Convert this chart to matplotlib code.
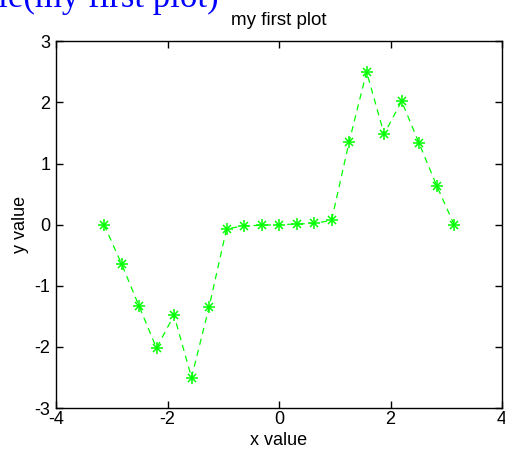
import matplotlib.pyplot as plt
import numpy as np

# x samples: -pi..pi in steps of pi/10
x_vals = [-3.1416, -2.8274, -2.5133, -2.1991, -1.8850, -1.5708, -1.2566,
          -0.9425, -0.6283, -0.3142, 0.0, 0.3142, 0.6283, 0.9425,
          1.2566, 1.5708, 1.8850, 2.1991, 2.5133, 2.8274, 3.1416]
y_vals = [0.0, -0.64, -1.33, -2.02, -1.48, -2.50, -1.35,
          -0.07, -0.02, -0.01, 0.0, 0.01, 0.02, 0.07,
          1.35, 2.50, 1.48, 2.02, 1.33, 0.64, 0.0]

x_ticks = [-4, -2, 0, 2, 4]
y_ticks = [-3, -2, -1, 0, 1, 2, 3]

plt.rcParams["font.family"] = ["Liberation Sans", "DejaVu Sans"]
plt.rcParams["axes.unicode_minus"] = False

fig = plt.figure(figsize=(5.06, 4.58), dpi=100)
ax = fig.add_axes([0.111, 0.109, 0.881, 0.801])

green = (0, 1, 0)
ax.plot(x_vals, y_vals, "--", color=green, linewidth=0.9, dashes=(5, 4))
ax.plot(x_vals, y_vals, "+", color=green, markersize=9, markeredgewidth=1.1)
ax.plot(x_vals, y_vals, "x", color=green, markersize=6, markeredgewidth=1.1)

ax.set_xlim(-4, 4)
ax.set_ylim(-3, 3)
ax.set_xticks(x_ticks)
ax.set_yticks(y_ticks)
ax.tick_params(direction="in", top=True, right=True, length=5, width=1,
               labelsize=13)
ax.tick_params(axis="x", pad=2)
ax.tick_params(axis="y", pad=4)
for s in ax.spines.values():
    s.set_linewidth(1)

ax.set_xlabel("x value", fontsize=13, labelpad=3)
ax.set_ylabel("y value", fontsize=13, labelpad=4)
ax.set_title("my first plot", fontsize=13.5, pad=11.5)

# cut-off caption text at the very top of the screenshot
fig.text(219 / 506, 1 - 7 / 458, "title(my first plot)", color="blue",
         fontsize=25, family=["Liberation Serif", "DejaVu Serif"],
         ha="right", va="baseline")

fig.savefig("out.png", dpi=100)
